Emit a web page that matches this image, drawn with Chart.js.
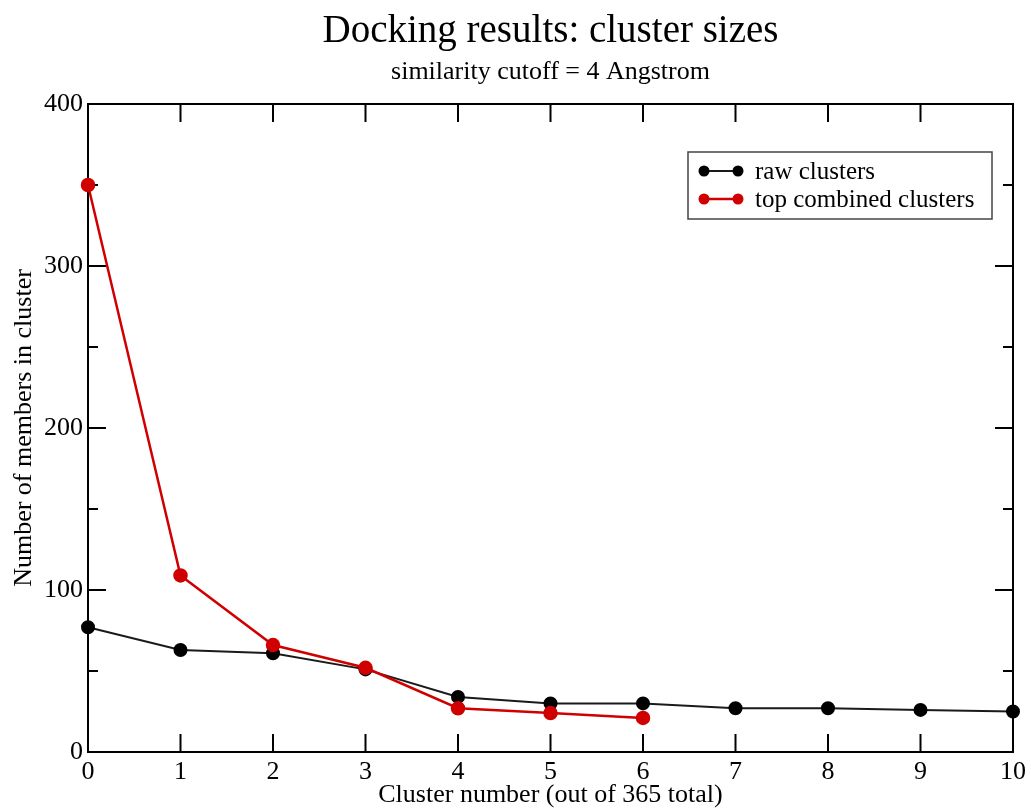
<!DOCTYPE html>
<html>
<head>
<meta charset="utf-8">
<title>Docking results: cluster sizes</title>
<script src="https://cdn.jsdelivr.net/npm/chart.js@4/dist/chart.umd.min.js"></script>
<style>
  html, body { margin: 0; padding: 0; background: #fff; }
  #wrap { width: 1031px; height: 811px; }
</style>
</head>
<body>
<div id="wrap"><canvas id="c"></canvas></div>
<script>
'use strict';

var clusterIdx = [0, 1, 2, 3, 4, 5, 6, 7, 8, 9, 10];
var rawClusters = [77, 63, 61, 51, 34, 30, 30, 27, 27, 26, 25];
var topCombined = [350, 109, 66, 52, 27, 24, 21];
var yTicks = [0, 100, 200, 300, 400];

var SERIF = '"Liberation Serif", "DejaVu Serif", serif';

function toPoints(xs, ys) {
    return ys.map(function(v, i) { return { x: xs[i], y: v }; });
}

// grace-style frame with inward ticks on all four sides
var framePlugin = {
    id: 'frame',
    beforeDatasetsDraw: function(chart) {
        var ctx = chart.ctx;
        var a = chart.chartArea;
        var xs = chart.scales.x, ys = chart.scales.y;
        ctx.save();
        ctx.strokeStyle = '#000';
        ctx.lineWidth = 2;
        ctx.strokeRect(a.left, a.top, a.right - a.left, a.bottom - a.top);
        ctx.beginPath();
        xs.ticks.forEach(function(t) {
            var px = xs.getPixelForValue(t.value);
            ctx.moveTo(px, a.bottom); ctx.lineTo(px, a.bottom - 18);
            ctx.moveTo(px, a.top); ctx.lineTo(px, a.top + 18);
        });
        ys.ticks.forEach(function(t) {
            var py = ys.getPixelForValue(t.value);
            ctx.moveTo(a.left, py); ctx.lineTo(a.left + 18, py);
            ctx.moveTo(a.right, py); ctx.lineTo(a.right - 18, py);
            if (t.value < 400) {
                var pm = ys.getPixelForValue(t.value + 50);
                ctx.moveTo(a.left, pm); ctx.lineTo(a.left + 10, pm);
                ctx.moveTo(a.right, pm); ctx.lineTo(a.right - 10, pm);
            }
        });
        ctx.stroke();
        ctx.restore();
    }
};

var legendPlugin = {
    id: 'boxLegend',
    afterDatasetsDraw: function(chart) {
        var ctx = chart.ctx;
        var a = chart.chartArea;
        var bx = a.right - 325, by = a.top + 48, bw = 304, bh = 67;
        ctx.save();
        ctx.fillStyle = '#fff';
        ctx.fillRect(bx, by, bw, bh);
        ctx.strokeStyle = '#444';
        ctx.lineWidth = 1.5;
        ctx.strokeRect(bx, by, bw, bh);
        ctx.font = '25px ' + SERIF;
        ctx.textBaseline = 'middle';
        chart.data.datasets.forEach(function(ds, i) {
            var y = by + 19 + i * 28;
            var x0 = bx + 16, x1 = bx + 50;
            ctx.strokeStyle = ds.borderColor;
            ctx.lineWidth = ds.borderWidth;
            ctx.beginPath(); ctx.moveTo(x0, y); ctx.lineTo(x1, y); ctx.stroke();
            ctx.fillStyle = ds.pointBackgroundColor;
            [x0, x1].forEach(function(x) {
                ctx.beginPath(); ctx.arc(x, y, 5.5, 0, Math.PI * 2); ctx.fill();
            });
            ctx.fillStyle = '#000';
            ctx.fillText(ds.label, bx + 67, y + 1);
        });
        ctx.restore();
    }
};

new Chart(document.getElementById('c'), {
    type: 'line',
    data: {
        datasets: [{
            label: 'raw clusters',
            data: toPoints(clusterIdx, rawClusters),
            borderColor: '#1a1a1a',
            backgroundColor: '#000',
            pointBackgroundColor: '#000',
            pointBorderColor: '#000',
            borderWidth: 2,
            pointRadius: 6,
            order: 1,
            clip: false
        }, {
            label: 'top combined clusters',
            data: toPoints(clusterIdx, topCombined),
            borderColor: '#d00000',
            backgroundColor: '#d00000',
            pointBackgroundColor: '#d00000',
            pointBorderColor: '#d00000',
            borderWidth: 2.5,
            pointRadius: 6,
            order: 0,
            clip: false
        }]
    },
    options: {
        responsive: true,
        maintainAspectRatio: false,
        animation: false,
        layout: { padding: { left: 0, right: 18, top: 0, bottom: 0 } },
        plugins: {
            legend: { display: false },
            tooltip: { enabled: false },
            title: {
                display: true,
                fullSize: false,
                text: 'Docking results: cluster sizes',
                color: '#000',
                font: { family: SERIF, size: 39, weight: 'normal' },
                padding: { top: 8, bottom: 2 }
            },
            subtitle: {
                display: true,
                fullSize: false,
                text: 'similarity cutoff = 4 Angstrom',
                color: '#000',
                font: { family: SERIF, size: 26, weight: 'normal' },
                padding: { top: 0, bottom: 16 }
            }
        },
        scales: {
            x: {
                type: 'linear',
                min: 0,
                max: 10,
                grid: { display: false, drawTicks: false },
                border: { display: false },
                ticks: {
                    stepSize: 1,
                    color: '#000',
                    padding: 5,
                    font: { family: SERIF, size: 26 }
                },
                title: {
                    display: true,
                    text: 'Cluster number (out of 365 total)',
                    color: '#000',
                    padding: { top: 0, bottom: 0 },
                    font: { family: SERIF, size: 26 }
                },
                afterFit: function(s) { s.height = 59; }
            },
            y: {
                min: 0,
                max: 400,
                grid: { display: false, drawTicks: false },
                border: { display: false },
                afterBuildTicks: function(s) {
                    s.ticks = yTicks.map(function(v) { return { value: v }; });
                },
                ticks: {
                    color: '#000',
                    padding: 5,
                    font: { family: SERIF, size: 26 }
                },
                title: {
                    display: true,
                    text: 'Number of members in cluster',
                    color: '#000',
                    padding: 9,
                    font: { family: SERIF, size: 26 }
                },
                afterFit: function(s) { s.width = 88; }
            }
        }
    },
    plugins: [framePlugin, legendPlugin]
});
</script>
</body>
</html>
